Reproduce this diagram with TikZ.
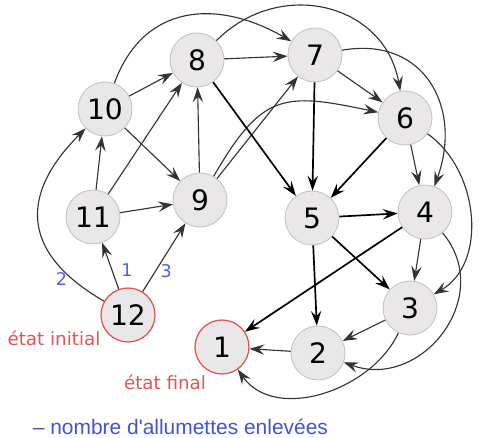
\documentclass[tikz,border=0pt]{standalone}
\usepackage{fontspec}
\setmainfont{DejaVu Sans}
\newfontfamily\legendefont{Liberation Sans}
\usetikzlibrary{arrows.meta}
\definecolor{fondetat}{HTML}{E9E7E7}
\definecolor{bordetat}{HTML}{C4C2C2}
\definecolor{rougeetat}{HTML}{E65252}
\definecolor{bleucoup}{HTML}{5060EC}
\definecolor{bleulegende}{HTML}{4152D9}

\begin{document}
\begin{tikzpicture}[
    etat/.style={circle,fill=fondetat,draw=bordetat,line width=0.6pt,minimum size=1.35cm,inner sep=0pt,font=\fontsize{20}{22}\selectfont},
    extreme/.style={etat,draw=rougeetat,line width=0.9pt},
    coup/.style={text=bleucoup,font=\fontsize{12.5}{14}\selectfont},
    fleche/.style={-{Stealth[length=3.7mm,width=2.6mm,inset=1.4mm]},black!80,line width=0.8pt},
    epaisse/.style={fleche,black,line width=1.2pt}]
    \useasboundingbox (0,0) rectangle (12.125,-10.95);

    \node[extreme] (12) at (3.2,-7.875) {12};
    \node[etat] (11) at (2.325,-5.425) {11};
    \node[etat] (10) at (2.625,-2.725) {10};
    \node[etat] (9) at (5,-5) {9};
    \node[etat] (8) at (4.925,-1.5) {8};
    \node[etat] (7) at (7.875,-1.375) {7};
    \node[etat] (6) at (10.125,-2.95) {6};
    \node[etat] (5) at (7.8,-5.45) {5};
    \node[etat] (4) at (10.625,-5.3) {4};
    \node[etat] (3) at (10.25,-7.7) {3};
    \node[etat] (2) at (7.95,-8.825) {2};
    \node[extreme] (1) at (5.55,-8.675) {1};

    \node[text=rougeetat,font=\fontsize{13}{15}\selectfont] (initial) at (1.35,-8.45) {état initial};
    \node[text=rougeetat,font=\fontsize{13}{15}\selectfont] (final) at (4.125,-9.55) {état final};
    \node[text=bleulegende,font=\legendefont\fontsize{14.9}{17}\selectfont] (legende) at (4.51,-10.675) {– nombre d\textquotesingle allumettes enlevées};

    \path
    (12) edge [fleche, out=150, in=225, looseness=1.4] node[coup,pos=0.15,left] (c2) {2} (10)
    (12) edge [fleche] node[coup,pos=0.4,right=1mm] (c1) {1} (11)
    (12) edge [fleche] node[coup,pos=0.3,right] (c3) {3} (9)

    (11) edge [fleche] (10)
    (11) edge [fleche] (9)
    (11) edge [fleche] (8)
    (10) edge [fleche] (8)
    (10) edge [fleche] (9)
    (10) edge [fleche, out=70, in=150, looseness=1.2] (7)
    (9) edge [fleche] (8)
    (9) edge [fleche] (7)
    (9) edge [fleche, out=60, in=168, looseness=1.4] (6)
    (8) edge [fleche] (7)
    (8) edge [fleche, out=45, in=100, looseness=1.2] (6)
    (8) edge [epaisse] (5)
    (7) edge [fleche] (6)
    (7) edge [epaisse] (5)
    (7) edge [fleche, out=10, in=70, looseness=1.3] (4)
    (6) edge [epaisse] (5)
    (6) edge [fleche] (4)
    (6) edge [fleche, out=-35, in=30] (3)
    (5) edge [epaisse] (4)
    (5) edge [epaisse] (3)
    (5) edge [epaisse] (2)
    (4) edge [fleche] (3)
    (4) edge [fleche, out=-50, in=-20, looseness=1.3] (2)
    (4) edge [epaisse] (1)
    (3) edge [fleche] (2)
    (3) edge [fleche, out=-115, in=-55] (1)
    (2) edge [fleche] (1);
\end{tikzpicture}
\end{document}
